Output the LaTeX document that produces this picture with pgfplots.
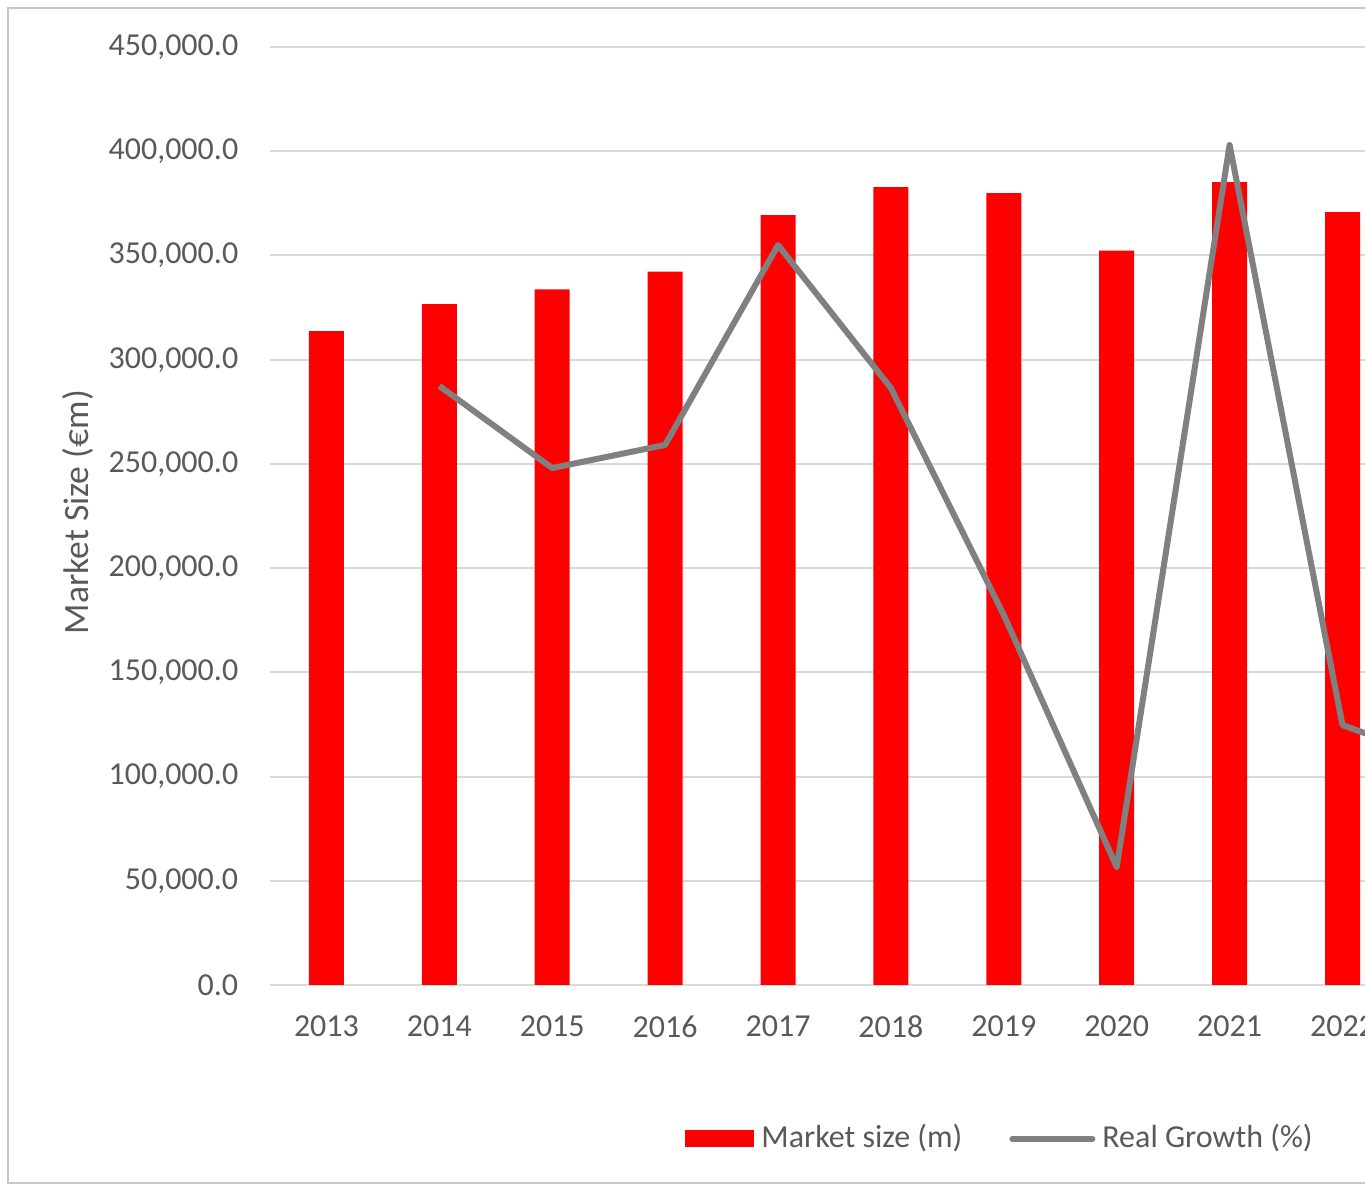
\documentclass[border=0pt]{standalone}
\usepackage{pgfplots}
\pgfplotsset{compat=1.18}
\usepackage{fontspec}
\setmainfont{Carlito}
\definecolor{barred}{RGB}{255,0,0}
\definecolor{linegray}{RGB}{128,128,128}
\definecolor{gridgray}{RGB}{217,217,217}
\definecolor{txtgray}{RGB}{89,89,89}
\definecolor{bordergray}{RGB}{200,200,200}
\begin{document}
\begin{tikzpicture}
\useasboundingbox (-67.5pt,-51pt) rectangle (273.75pt,246.25pt);
\clip (-67.5pt,-51pt) rectangle (273.75pt,246.25pt);
\begin{axis}[
  at={(0pt,0pt)}, anchor=south west,
  scale only axis, width=273.75pt, height=234.5pt,
  xmin=-0.5, xmax=9.199, ymin=0, ymax=450000,
  axis line style={draw=none},
  ymajorgrids, grid style={gridgray, line width=0.5pt},
  major tick length=0pt,
  ytick={0,50000,...,450000},
  scaled y ticks=false,
  yticklabel style={/pgf/number format/fixed, /pgf/number format/fixed zerofill,
     /pgf/number format/precision=1, /pgf/number format/1000 sep={,},
     /pgf/number format/assume math mode=true,
     inner sep=0pt, anchor=east, xshift=-7.75pt},
  xtick={0,1,2,3,4,5,6,7,8,9},
  xticklabels={2013,2014,2015,2016,2017,2018,2019,2020,2021,2022},
  xticklabel style={inner sep=0pt, anchor=north, yshift=-7.5pt},
  tick label style={font=\fontsize{8}{9}\selectfont, text=txtgray},
  ylabel={Market Size (€m)},
  every axis y label/.style={at={(axis description cs:-0.1753,0.504)}, rotate=90, anchor=center,
     font=\fontsize{8.9}{10}\selectfont, text=txtgray},
  legend columns=2,
  legend style={draw=none, fill=none, at={(axis description cs:0.669,-0.164)}, anchor=center,
     font=\fontsize{8}{9}\selectfont, text=txtgray,
     /tikz/every even column/.append style={column sep=10pt},
     nodes={inner xsep=1.75pt, inner ysep=0pt}},
]
\addplot[ybar, bar width=8.75pt, fill=barred, draw=none,
  legend image code/.code={\fill[barred] (0pt,-2.15pt) rectangle (17.25pt,2.15pt);}]
  coordinates {(0,313700) (1,326700) (2,333700) (3,342200) (4,369400) (5,382800) (6,379900) (7,352300) (8,385200) (9,370800)};
\addlegendentry{Market size (m)}
\addplot[linegray, line width=1.5pt, line join=round, mark=none,
  legend image code/.code={\draw[linegray, line width=1.5pt, line cap=round] (0pt,0pt) -- (20pt,0pt);}]
  coordinates {(1,287400) (2,248000) (3,259100) (4,355000) (5,286400) (6,177500) (7,56600) (8,403000) (9,124700) (10,105000)};
\addlegendentry{Real Growth (\%)}
\end{axis}
\draw[bordergray, line width=0.5pt] (-65.5pt,-49.5pt) rectangle (290pt,244.25pt);
\end{tikzpicture}
\end{document}
